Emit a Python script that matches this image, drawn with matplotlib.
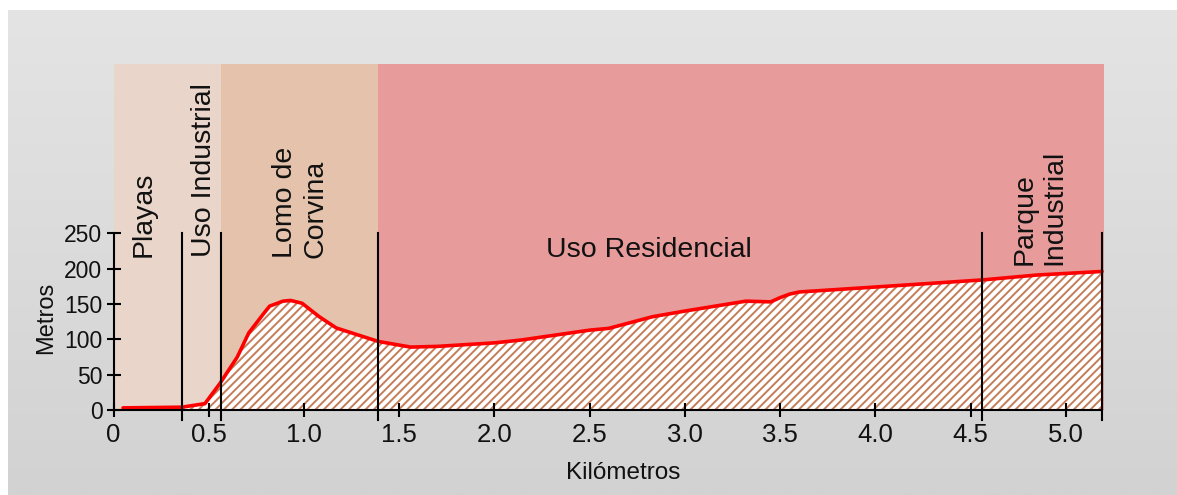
import matplotlib
matplotlib.use("Agg")
import matplotlib.pyplot as plt
import numpy as np

# Elevation profile (km, m)
dist_km = [0.05, 0.36, 0.48, 0.56, 0.65, 0.71, 0.79, 0.82, 0.89, 0.93, 0.99, 1.08,
           1.17, 1.39, 1.56, 1.70, 2.00, 2.14, 2.50, 2.60, 2.83, 3.00, 3.32, 3.45,
           3.50, 3.55, 3.60, 4.00, 4.56, 4.85, 5.19]
elev_m = [3, 4, 9, 38, 75, 109, 137, 147, 154, 155, 151, 132,
          116, 97, 89, 90, 95, 99, 113, 115.5, 132, 140, 154, 153,
          159, 164, 167, 174, 184, 191, 196]

# Land-use zones: boundaries (km) and colours
zone_bounds = [0.0, 0.562, 1.387, 5.2]
zone_colors = ["#e9d5c9", "#e5c2ab", "#e89b9b"]

# Zone divider positions (km)
dividers = [0.36, 0.562, 1.387, 4.56, 5.19]

# Zone labels: text, x (km), y (m), rotation
labels = ["Playas", "Uso Industrial", "Lomo de\nCorvina", "Uso Residencial", "Parque\nIndustrial"]
label_x = [0.16, 0.475, 0.98, 2.81, 4.86]
label_y = [217, 217, 215, 226, 205]
label_rot = [90, 90, 90, 0, 90]

xticks = [0, 0.5, 1.0, 1.5, 2.0, 2.5, 3.0, 3.5, 4.0, 4.5, 5.0]
xtick_labels = ["0", "0.5", "1.0", "1.5", "2.0", "2.5", "3.0", "3.5", "4.0", "4.5", "5.0"]
yticks = [0, 50, 100, 150, 200, 250]

plt.rcParams["font.family"] = ["Liberation Sans", "DejaVu Sans"]
plt.rcParams["hatch.linewidth"] = 1.4
plt.rcParams["hatch.color"] = "#c47d5a"

W, H = 1177, 495
fig = plt.figure(figsize=(W / 100, H / 100), dpi=100, facecolor="white")

# Grey gradient panel behind the chart
bg = fig.add_axes([8 / W, 0, 1 - 8 / W, (H - 10) / H], zorder=-10)
grad = np.linspace(0, 1, 256).reshape(-1, 1)
top = np.array([0xe4, 0xe4, 0xe4]) / 255
bot = np.array([0xd2, 0xd2, 0xd2]) / 255
img = top + (bot - top) * grad[:, :, None]
bg.imshow(img, aspect="auto", extent=[0, 1, 0, 1], origin="upper")
bg.set_axis_off()

left_px, right_px = 113.5, 1104
bottom_px, top_px = 410, 64
ax = fig.add_axes([left_px / W, (H - bottom_px) / H,
                   (right_px - left_px) / W, (bottom_px - top_px) / H])
ax.patch.set_alpha(0)
ymax = (bottom_px - top_px) / 0.7068
ax.set_xlim(0, 5.2)
ax.set_ylim(0, ymax)

for (x0, x1), c in zip(zip(zone_bounds[:-1], zone_bounds[1:]), zone_colors):
    ax.axvspan(x0, x1, color=c, lw=0, zorder=0)

ax.fill_between(dist_km, elev_m, 0, facecolor="white", edgecolor="#c47d5a",
                hatch="////", linewidth=0, zorder=1)
ax.plot(dist_km, elev_m, color="#ff0000", lw=2.6, solid_joinstyle="round",
        solid_capstyle="round", zorder=3)

for d in dividers:
    ax.plot([d, d], [-14, 250], color="black", lw=1.5, clip_on=False, zorder=4)

for t, x, y, r in zip(labels, label_x, label_y, label_rot):
    if r == 90:
        ax.text(x, y, t, rotation=90, ha="center", va="bottom", fontsize=20.5,
                multialignment="left", color="#111111", zorder=5)
    else:
        ax.text(x, y, t, ha="center", va="center", fontsize=20.5,
                color="#111111", zorder=5)

for s in ["top", "right"]:
    ax.spines[s].set_visible(False)
ax.spines["left"].set_bounds(0, 250)
ax.spines["bottom"].set_bounds(0, 5.19)
for s in ["left", "bottom"]:
    ax.spines[s].set_linewidth(1.5)
    ax.spines[s].set_zorder(4)

ax.set_xticks(xticks)
ax.set_xticklabels(xtick_labels)
ax.set_yticks(yticks)
ax.tick_params(direction="inout", length=10, width=1.5, labelcolor="#111111")
ax.tick_params(axis="x", pad=4.5, labelsize=18.5)
ax.tick_params(axis="y", pad=3, labelsize=16.5)

ax.text(-0.068, 130 / ymax, "Metros", transform=ax.transAxes, rotation=90,
        ha="center", va="center", fontsize=17, color="#111111")
ax.text(0.515, -0.182, "Kilómetros", transform=ax.transAxes,
        ha="center", va="center", fontsize=17.5, color="#111111")

fig.savefig("out.png", dpi=100, facecolor="white")
